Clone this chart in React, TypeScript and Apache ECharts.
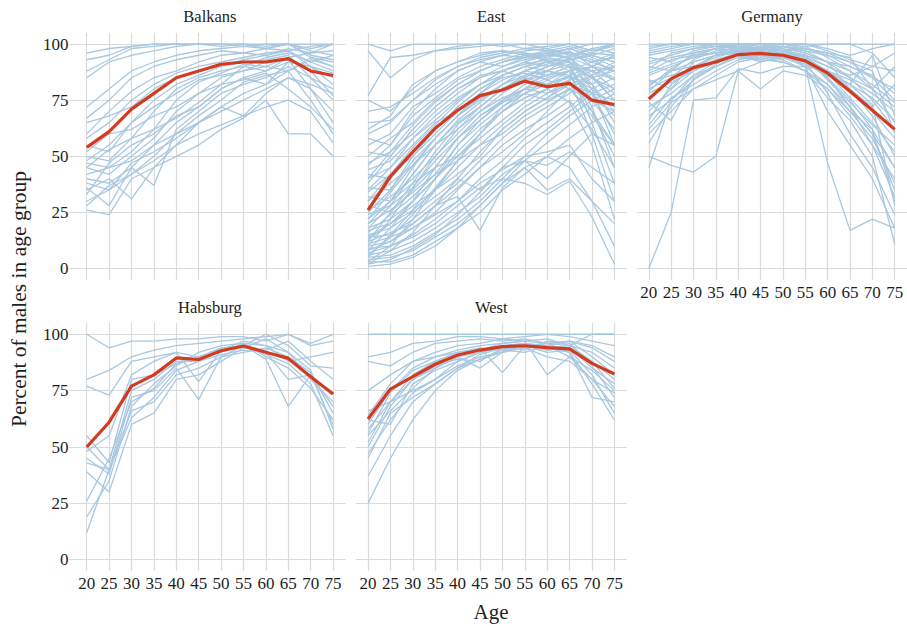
import React, { useEffect, useRef } from 'react';
import * as echarts from 'echarts';

const AGES = [20, 25, 30, 35, 40, 45, 50, 55, 60, 65, 70, 75];
const Y_TICKS = [0, 25, 50, 75, 100];
const PANEL_NAMES = ['Balkans', 'East', 'Germany', 'Habsburg', 'West'];

const BALKANS_MEAN = [54, 61, 71, 78, 85, 88, 91, 92, 92, 93.5, 88, 86];
const EAST_MEAN = [26, 41, 52, 62.5, 70.5, 77, 79.5, 83.5, 81, 82.5, 75, 73];
const GERMANY_MEAN = [75.5, 84.5, 89.5, 92, 95.3, 95.8, 95, 92.5, 87, 79, 70.5, 62];
const HABSBURG_MEAN = [50, 61, 77, 82, 89.5, 88.8, 92.7, 94.8, 92, 89.3, 81.2, 73.5];
const WEST_MEAN = [62.4, 75.7, 81.2, 86.7, 90.8, 93, 94.5, 94.9, 94.1, 93.5, 87.1, 82.4];

const BALKANS_LINES = [
  [96, 98, 99, 100, 100, 100, 100, 100, 100, 100, 100, 100],
  [93, 95, 99, 100, 100, 100, 100, 99, 100, 100, 98, 100],
  [88, 93, 98, 99, 100, 100, 100, 100, 99, 100, 97, 95],
  [85, 92, 95, 97, 99, 100, 99, 100, 98, 100, 95, 93],
  [72, 80, 88, 92, 95, 97, 98, 99, 98, 100, 94, 90],
  [67, 75, 85, 90, 93, 95, 97, 96, 98, 97, 92, 88],
  [60, 70, 79, 85, 88, 92, 95, 96, 95, 97, 90, 85],
  [55, 52, 65, 75, 82, 86, 90, 92, 93, 95, 85, 80],
  [50, 48, 58, 70, 80, 85, 88, 90, 94, 96, 92, 95],
  [47, 45, 52, 62, 75, 83, 87, 91, 90, 94, 88, 77],
  [45, 42, 50, 58, 70, 78, 85, 88, 92, 93, 80, 70],
  [42, 45, 48, 55, 65, 72, 80, 85, 88, 92, 90, 82],
  [40, 38, 45, 37, 62, 70, 78, 82, 85, 90, 85, 75],
  [38, 35, 42, 50, 60, 68, 75, 83, 86, 88, 93, 90],
  [35, 40, 31, 45, 55, 65, 72, 78, 82, 88, 75, 60],
  [33, 47, 55, 60, 68, 72, 80, 85, 82, 92, 90, 87],
  [30, 35, 47, 52, 58, 65, 70, 75, 80, 85, 80, 65],
  [28, 37, 42, 48, 55, 60, 64, 68, 72, 75, 70, 56],
  [26, 24, 40, 45, 50, 55, 62, 67, 75, 60, 60, 50],
  [36, 28, 45, 55, 60, 65, 72, 68, 78, 85, 82, 78],
  [52, 60, 62, 68, 72, 78, 82, 90, 88, 94, 96, 100],
  [65, 68, 72, 80, 85, 88, 90, 93, 95, 98, 96, 97],
  [45, 53, 58, 62, 67, 74, 82, 84, 87, 80, 72, 62],
  [48, 55, 65, 72, 78, 84, 86, 88, 90, 88, 94, 92],
  [58, 65, 75, 82, 87, 90, 92, 94, 96, 97, 99, 100],
];

const EAST_LINES = [
  [100, 97, 100, 100, 100, 100, 100, 100, 100, 100, 100, 100],
  [97, 85, 93, 97, 99, 100, 99, 100, 98, 100, 97, 99],
  [77, 94, 95, 97, 98, 99, 100, 98, 97, 99, 96, 95],
  [75, 70, 80, 88, 92, 95, 97, 96, 94, 97, 90, 85],
  [70, 72, 78, 85, 90, 93, 95, 97, 98, 95, 92, 96],
  [65, 66, 75, 84, 90, 94, 96, 98, 99, 100, 97, 100],
  [62, 68, 82, 88, 92, 96, 97, 95, 93, 92, 88, 80],
  [58, 55, 70, 80, 88, 92, 95, 94, 96, 94, 82, 70],
  [55, 60, 72, 78, 85, 90, 93, 96, 92, 90, 75, 62],
  [50, 58, 65, 75, 82, 88, 92, 95, 97, 96, 95, 98],
  [47, 52, 60, 70, 78, 85, 90, 93, 95, 98, 100, 100],
  [44, 48, 58, 66, 75, 82, 88, 92, 90, 94, 86, 75],
  [42, 40, 52, 62, 72, 80, 86, 90, 94, 92, 80, 55],
  [40, 45, 55, 65, 70, 78, 84, 88, 86, 90, 72, 45],
  [38, 50, 62, 72, 80, 86, 88, 91, 93, 88, 78, 68],
  [36, 35, 48, 58, 68, 75, 82, 88, 91, 95, 92, 88],
  [34, 42, 50, 60, 70, 76, 80, 85, 82, 88, 65, 38],
  [32, 30, 42, 55, 65, 72, 80, 86, 90, 93, 96, 100],
  [30, 38, 46, 55, 62, 70, 78, 84, 88, 85, 82, 90],
  [28, 25, 35, 45, 58, 66, 75, 82, 86, 90, 88, 84],
  [26, 32, 40, 50, 60, 70, 76, 80, 78, 84, 60, 30],
  [24, 28, 36, 48, 58, 68, 74, 80, 85, 88, 92, 94],
  [22, 30, 38, 45, 50, 60, 72, 78, 82, 86, 80, 72],
  [20, 26, 34, 42, 55, 64, 72, 80, 88, 94, 98, 96],
  [18, 22, 30, 40, 52, 62, 70, 76, 80, 74, 55, 22],
  [17, 20, 28, 35, 45, 55, 64, 72, 78, 82, 78, 75],
  [16, 24, 32, 42, 48, 55, 60, 68, 74, 80, 86, 92],
  [15, 18, 25, 32, 40, 35, 45, 48, 40, 50, 60, 55],
  [14, 15, 22, 30, 38, 48, 58, 66, 72, 78, 85, 88],
  [13, 20, 26, 35, 42, 50, 62, 70, 76, 84, 90, 95],
  [12, 16, 20, 28, 36, 45, 55, 62, 68, 75, 62, 45],
  [11, 14, 18, 25, 35, 45, 52, 60, 70, 80, 75, 70],
  [10, 12, 20, 28, 32, 17, 36, 45, 35, 40, 30, 10],
  [9, 10, 15, 22, 30, 40, 48, 58, 65, 72, 80, 85],
  [8, 12, 18, 24, 30, 38, 44, 50, 52, 55, 40, 30],
  [7, 10, 14, 20, 28, 36, 40, 38, 33, 39, 23, 2],
  [6, 8, 12, 18, 25, 32, 42, 48, 46, 52, 45, 38],
  [5, 6, 10, 16, 22, 30, 40, 50, 60, 68, 75, 80],
  [4, 5, 8, 14, 20, 28, 38, 45, 50, 45, 30, 20],
  [3, 3, 6, 12, 18, 25, 35, 42, 50, 58, 65, 70],
  [2, 4, 9, 15, 24, 34, 45, 55, 62, 70, 78, 82],
  [1, 2, 5, 10, 18, 28, 38, 48, 56, 64, 72, 78],
  [60, 65, 75, 82, 88, 92, 90, 94, 96, 98, 94, 90],
  [52, 50, 62, 72, 80, 85, 88, 85, 90, 92, 85, 78],
  [46, 55, 68, 76, 84, 88, 92, 94, 95, 96, 93, 88],
  [35, 45, 58, 68, 76, 82, 86, 90, 88, 86, 70, 50],
  [25, 35, 50, 62, 72, 80, 85, 87, 84, 80, 68, 55],
  [20, 30, 45, 58, 68, 76, 82, 86, 88, 91, 85, 80],
  [12, 25, 38, 52, 64, 72, 80, 84, 86, 88, 82, 65],
  [8, 18, 30, 45, 58, 68, 75, 80, 82, 85, 78, 60],
  [5, 15, 26, 40, 55, 66, 74, 78, 75, 80, 70, 55],
  [3, 10, 22, 35, 48, 60, 70, 76, 80, 84, 88, 90],
  [18, 28, 42, 55, 66, 74, 82, 88, 92, 95, 98, 100],
  [10, 22, 36, 50, 62, 72, 80, 85, 90, 93, 95, 92],
  [30, 42, 54, 64, 74, 82, 88, 92, 95, 94, 90, 84],
  [40, 52, 64, 74, 82, 88, 92, 95, 96, 98, 95, 92],
  [22, 34, 46, 58, 68, 78, 86, 90, 92, 90, 85, 75],
  [6, 14, 24, 36, 48, 60, 70, 78, 84, 88, 90, 88],
  [2, 8, 16, 28, 40, 52, 62, 70, 76, 82, 86, 90],
  [14, 20, 30, 40, 50, 58, 66, 74, 80, 86, 90, 95],
];

const GERMANY_LINES = [
  [100, 100, 100, 100, 100, 100, 100, 100, 100, 100, 100, 100],
  [98, 100, 100, 100, 100, 100, 100, 99, 100, 100, 96, 85],
  [96, 98, 100, 99, 100, 99, 100, 100, 98, 95, 98, 100],
  [94, 92, 97, 99, 98, 100, 97, 99, 94, 88, 80, 72],
  [92, 95, 98, 100, 99, 97, 99, 96, 92, 85, 75, 62],
  [90, 88, 96, 98, 100, 98, 97, 98, 95, 90, 86, 78],
  [88, 93, 95, 96, 99, 100, 98, 94, 88, 80, 70, 58],
  [86, 90, 94, 98, 97, 99, 95, 92, 85, 75, 62, 45],
  [84, 80, 92, 95, 98, 97, 96, 90, 82, 70, 58, 38],
  [82, 88, 90, 95, 96, 95, 93, 88, 80, 68, 55, 32],
  [80, 85, 93, 97, 98, 96, 94, 91, 86, 82, 76, 66],
  [78, 83, 88, 92, 96, 98, 97, 95, 90, 85, 80, 90],
  [76, 84, 90, 94, 97, 98, 96, 93, 87, 76, 65, 52],
  [74, 66, 85, 90, 95, 92, 94, 90, 70, 55, 40, 18],
  [72, 78, 86, 92, 95, 97, 95, 92, 78, 60, 45, 24],
  [70, 80, 88, 93, 96, 95, 96, 90, 47, 17, 22, 18],
  [68, 75, 84, 90, 94, 93, 92, 88, 82, 72, 60, 35],
  [66, 82, 89, 95, 97, 96, 94, 92, 88, 84, 78, 70],
  [64, 76, 82, 88, 93, 95, 94, 92, 86, 80, 72, 82],
  [60, 70, 80, 86, 92, 94, 96, 94, 90, 86, 90, 96],
  [56, 72, 84, 91, 97, 99, 98, 96, 92, 88, 82, 74],
  [50, 46, 43, 50, 88, 92, 95, 93, 85, 72, 60, 45],
  [0, 25, 75, 76, 89, 87, 90, 90, 88, 82, 73, 28],
  [45, 75, 86, 90, 95, 93, 96, 95, 92, 90, 85, 80],
  [97, 99, 100, 100, 100, 100, 100, 100, 97, 93, 90, 88],
  [95, 97, 99, 100, 98, 98, 99, 97, 92, 80, 68, 50],
  [91, 94, 96, 98, 99, 98, 97, 95, 85, 72, 55, 40],
  [89, 96, 98, 99, 100, 100, 99, 98, 96, 92, 88, 60],
  [87, 91, 94, 96, 97, 96, 95, 93, 88, 82, 95, 68],
  [83, 86, 89, 93, 95, 94, 92, 88, 76, 66, 50, 11],
  [81, 89, 95, 98, 99, 98, 97, 94, 84, 74, 64, 55],
  [79, 88, 92, 95, 97, 98, 99, 97, 95, 92, 85, 75],
  [62, 74, 80, 84, 88, 80, 88, 86, 80, 70, 62, 30],
  [99, 100, 100, 100, 99, 100, 100, 98, 96, 94, 80, 65],
];

const HABSBURG_LINES = [
  [100, 94, 97, 97, 98, 98, 99, 99, 97, 100, 96, 100],
  [80, 84, 90, 93, 95, 96, 97, 98, 99, 100, 95, 97],
  [77, 73, 88, 90, 92, 79, 93, 97, 95, 88, 90, 92],
  [55, 43, 80, 82, 87, 90, 92, 96, 95, 92, 80, 70],
  [50, 40, 75, 80, 88, 88, 94, 94, 93, 97, 88, 80],
  [45, 38, 72, 75, 85, 71, 90, 95, 89, 68, 82, 60],
  [43, 40, 66, 70, 82, 85, 90, 92, 94, 90, 83, 65],
  [39, 30, 60, 65, 80, 82, 88, 94, 98, 92, 84, 58],
  [26, 45, 70, 76, 87, 89, 93, 95, 91, 87, 78, 55],
  [19, 35, 68, 78, 86, 92, 95, 96, 90, 85, 76, 62],
  [12, 40, 63, 72, 84, 88, 91, 93, 92, 80, 82, 68],
  [48, 55, 82, 88, 92, 90, 94, 95, 100, 95, 86, 85],
];

const WEST_LINES = [
  [100, 100, 100, 100, 100, 100, 100, 100, 100, 100, 100, 100],
  [90, 92, 96, 97, 99, 99, 98, 99, 100, 99, 97, 95],
  [88, 86, 92, 96, 97, 98, 97, 98, 96, 97, 94, 88],
  [75, 82, 88, 92, 95, 96, 98, 97, 96, 95, 100, 100],
  [66, 70, 80, 85, 90, 94, 83, 95, 93, 94, 85, 78],
  [62, 60, 78, 84, 88, 92, 95, 94, 96, 92, 72, 70],
  [58, 70, 82, 88, 92, 93, 96, 97, 82, 90, 84, 75],
  [55, 66, 76, 85, 90, 92, 95, 96, 95, 97, 90, 82],
  [52, 70, 75, 80, 88, 92, 94, 95, 92, 93, 82, 65],
  [47, 62, 74, 80, 86, 90, 92, 96, 94, 95, 88, 80],
  [45, 65, 72, 78, 85, 89, 93, 92, 95, 90, 80, 68],
  [37, 55, 70, 78, 85, 91, 94, 93, 97, 96, 86, 72],
  [25, 45, 62, 75, 84, 89, 92, 95, 93, 94, 88, 76],
  [60, 75, 85, 90, 93, 95, 96, 97, 98, 95, 92, 85],
  [64, 78, 88, 90, 92, 94, 93, 95, 96, 97, 95, 90],
  [50, 68, 80, 86, 89, 88, 94, 96, 94, 92, 78, 62],
  [56, 74, 84, 88, 90, 85, 92, 94, 90, 88, 80, 74],
];

const PANEL_LINES = [BALKANS_LINES, EAST_LINES, GERMANY_LINES, HABSBURG_LINES, WEST_LINES];
const PANEL_MEANS = [BALKANS_MEAN, EAST_MEAN, GERMANY_MEAN, HABSBURG_MEAN, WEST_MEAN];

const FONT = '"Liberation Serif", "DejaVu Serif", serif';
const COL_LEFT = [74.4, 355.7, 636.5];
const ROW_TOP = [32.8, 323];
const PANEL_W = 271;
const PANEL_H = [247, 248];
const GRID_COLOR = '#dadada';
const BLUE = '#a8c8e0';
const RED = '#d33a1f';

export default function App() {
  const ref = useRef<HTMLDivElement>(null);
  useEffect(() => {
    if (!ref.current) return;
    const chart = echarts.init(ref.current, null, { renderer: 'svg' });
    const grids: any[] = [];
    const xAxes: any[] = [];
    const yAxes: any[] = [];
    const series: any[] = [];
    const graphics: any[] = [];
    PANEL_NAMES.forEach((name, i) => {
      const col = i < 3 ? i : i - 3;
      const row = i < 3 ? 0 : 1;
      const left = COL_LEFT[col];
      const top = ROW_TOP[row];
      grids.push({ left, top, width: PANEL_W, height: PANEL_H[row], containLabel: false });
      const showX = i >= 2;
      const showY = col === 0;
      xAxes.push({
        type: 'value', gridIndex: i, min: 17.25, max: 77.75,
        axisLine: { show: false },
        axisTick: { show: showX, length: 6, customValues: AGES, lineStyle: { color: GRID_COLOR, width: 1.2 } },
        axisLabel: { show: showX, customValues: AGES, fontFamily: FONT, fontSize: 17, color: '#1e1e1e', margin: 4 },
        splitLine: { show: true, lineStyle: { color: GRID_COLOR, width: 1.2 } },
      });
      yAxes.push({
        type: 'value', gridIndex: i, min: -5, max: 105,
        axisLine: { show: false },
        axisTick: { show: showY, length: 5, customValues: Y_TICKS, lineStyle: { color: GRID_COLOR, width: 1.2 } },
        axisLabel: { show: showY, customValues: Y_TICKS, fontFamily: FONT, fontSize: 17, color: '#1e1e1e', margin: 6 },
        splitLine: { show: true, lineStyle: { color: GRID_COLOR, width: 1.2 } },
      });
      PANEL_LINES[i].forEach((vals) => {
        series.push({
          type: 'line', xAxisIndex: i, yAxisIndex: i, silent: true, symbol: 'none', z: 2,
          lineStyle: { color: BLUE, width: 1.3 },
          data: AGES.map((a, k) => [a, vals[k]]),
        });
      });
      series.push({
        type: 'line', xAxisIndex: i, yAxisIndex: i, silent: true, symbol: 'none', z: 3,
        lineStyle: { color: RED, width: 3.2 },
        data: AGES.map((a, k) => [a, PANEL_MEANS[i][k]]),
      });
      graphics.push({
        type: 'text', x: left + PANEL_W / 2, y: top - 16,
        style: { text: name, fontFamily: FONT, fontSize: 16.5, fill: '#1e1e1e', align: 'center', verticalAlign: 'middle' },
      });
    });
    graphics.push({
      type: 'text', x: 491, y: 612,
      style: { text: 'Age', fontFamily: FONT, fontSize: 21, fill: '#1e1e1e', align: 'center', verticalAlign: 'middle' },
    });
    graphics.push({
      type: 'text', x: 19, y: 299, rotation: Math.PI / 2,
      style: { text: 'Percent of males in age group', fontFamily: FONT, fontSize: 21.5, fill: '#1e1e1e', align: 'center', verticalAlign: 'middle' },
    });
    chart.setOption({
      animation: false,
      backgroundColor: '#ffffff',
      grid: grids,
      xAxis: xAxes,
      yAxis: yAxes,
      series,
      graphic: graphics,
    });
    return () => chart.dispose();
  }, []);
  return <div ref={ref} style={{ position: 'fixed', left: 0, top: 0, width: 907, height: 626 }} />;
}
